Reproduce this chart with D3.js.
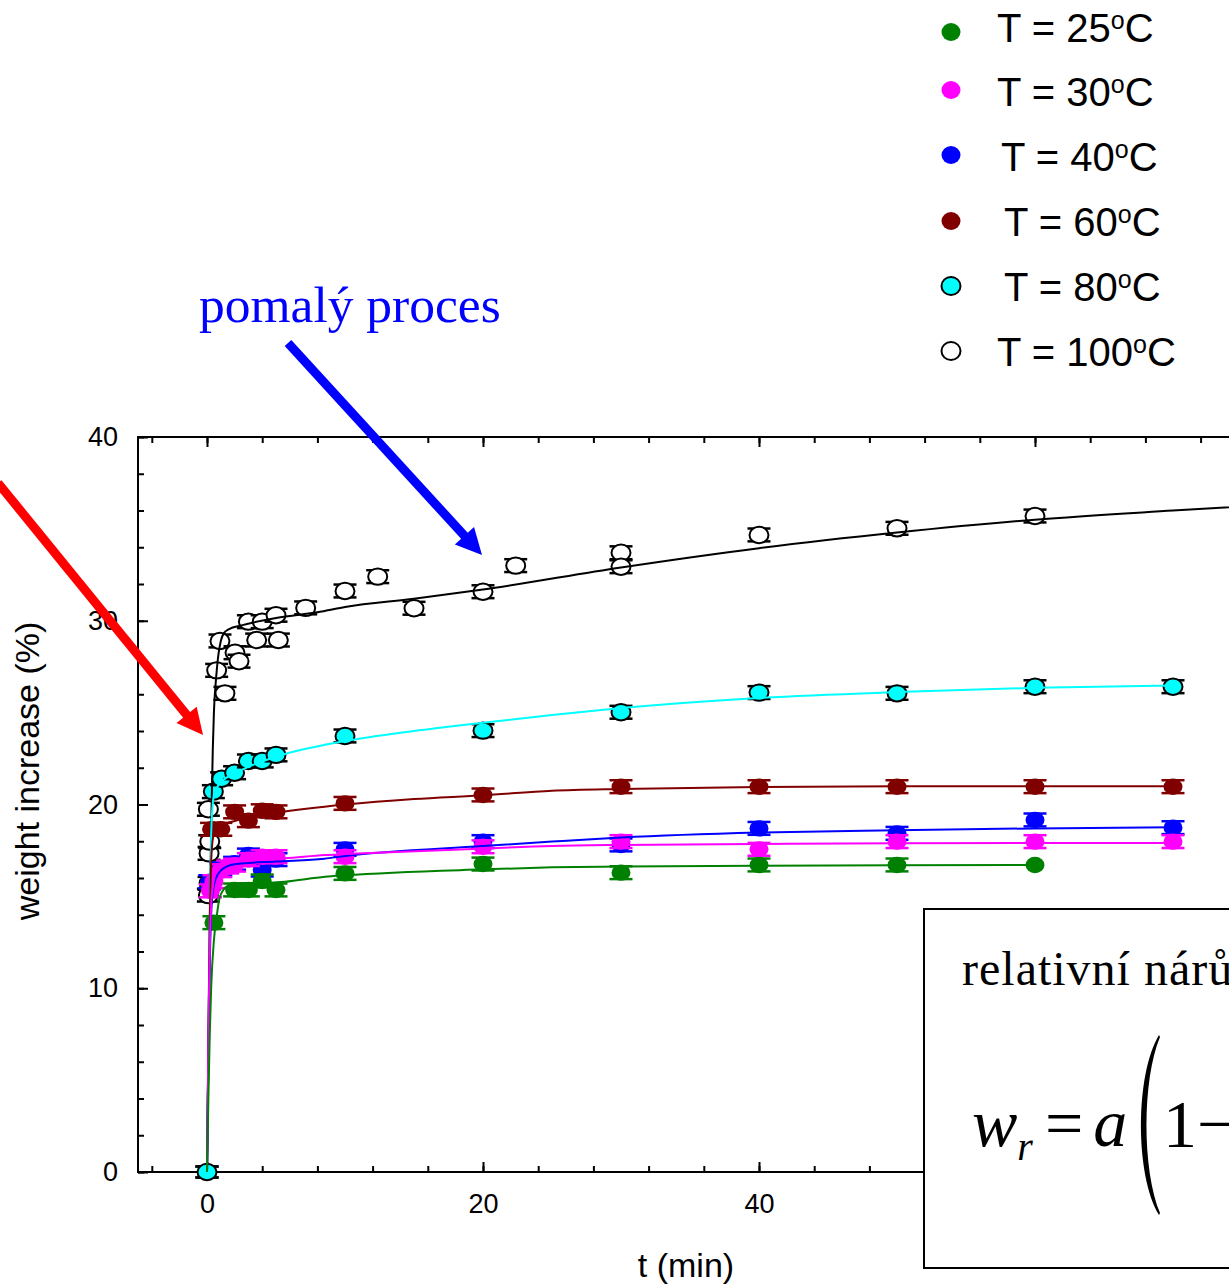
<!DOCTYPE html>
<html>
<head>
<meta charset="utf-8">
<script src="https://cdn.jsdelivr.net/npm/d3@7"></script>
<style>
  html, body { margin: 0; padding: 0; background: #fff; }
  svg { display: block; }
  .sans { font-family: "Liberation Sans", Arial, sans-serif; }
  .serif { font-family: "Liberation Serif", "Times New Roman", serif; }
</style>
</head>
<body>
<script>
// ---------------- DATA ----------------
const seriesNames = ["T = 25", "T = 30", "T = 40", "T = 60", "T = 80", "T = 100"];
const seriesColors = ["#008000", "#ff00ff", "#0000ff", "#800000", "#00ffff", "#ffffff"];

// measured points (time in min, weight increase in %)
const t25 = [0, 0.5, 2, 3, 4, 5, 10, 20, 30, 40, 50, 60];
const w25 = [0, 13.57, 15.35, 15.35, 15.84, 15.35, 16.25, 16.76, 16.29, 16.71, 16.71, 16.71];
const e25 = [0.3, 0.35, 0.35, 0.35, 0.35, 0.35, 0.35, 0.35, 0.35, 0.35, 0.35, 0];

const t30 = [0, 0.25, 0.5, 1, 1.5, 2, 3, 4, 5, 10, 20, 30, 40, 50, 60, 70];
const w30 = [0, 15.3, 15.8, 16.4, 16.6, 16.7, 17.0, 17.16, 17.16, 17.16, 17.7, 17.98, 17.56, 17.98, 17.98, 17.98];
const e30 = [0.3, 0.35, 0.35, 0.35, 0.35, 0.35, 0.35, 0.35, 0.35, 0.35, 0.35, 0.35, 0.35, 0.35, 0.35, 0.35];

const t40 = [0, 0.2, 1, 2, 3, 4, 5, 10, 20, 30, 40, 50, 60, 70];
const w40 = [0, 15.8, 16.5, 16.8, 17.25, 16.43, 17.0, 17.56, 17.98, 17.8, 18.7, 18.43, 19.16, 18.74];
const e40 = [0.3, 0.35, 0.35, 0.35, 0.35, 0.35, 0.35, 0.35, 0.35, 0.35, 0.35, 0.35, 0.35, 0.35];

const t60 = [0, 0.33, 1, 2, 3, 4, 5, 10, 20, 30, 40, 50, 60, 70];
const w60 = [0, 18.65, 18.65, 19.6, 19.12, 19.66, 19.6, 20.06, 20.52, 20.97, 20.97, 20.97, 20.97, 20.97];
const e60 = [0.3, 0.35, 0.35, 0.35, 0.35, 0.35, 0.35, 0.35, 0.35, 0.35, 0.35, 0.35, 0.35, 0.35];

const t80 = [0, 0.46, 1.06, 2, 3, 4, 5, 10, 20, 30, 40, 50, 60, 70];
const w80 = [0, 20.7, 21.4, 21.73, 22.37, 22.37, 22.7, 23.73, 24.02, 25.02, 26.09, 26.05, 26.41, 26.41];
const e80 = [0.3, 0.35, 0.35, 0.35, 0.35, 0.35, 0.35, 0.35, 0.35, 0.35, 0.35, 0.35, 0.35, 0.35];

const t100 = [0.1, 0.15, 0.15, 0.2, 0.1, 0.7, 0.94, 1.3, 2.03, 2.32, 3, 3.6, 4, 5, 5.17, 7.15, 10, 12.37, 15, 20, 22.37, 30, 30, 40, 50, 60];
const w100 = [15.07, 15.71, 17.34, 17.98, 19.74, 27.3, 28.9, 26.05, 28.26, 27.8, 29.95, 28.95, 29.95, 30.3, 28.95, 30.7, 31.62, 32.4, 30.68, 31.58, 33.0, 33.7, 32.94, 34.67, 35.03, 35.7];
const e100 = [0.35, 0.35, 0.35, 0.35, 0.35, 0.35, 0.35, 0.35, 0.35, 0.35, 0.35, 0.35, 0.35, 0.35, 0.35, 0.35, 0.35, 0.35, 0.35, 0.35, 0.35, 0.35, 0.35, 0.35, 0.35, 0.35];

// fitted curves
const fit25t = [0, 0.1, 0.2, 0.3, 0.5, 0.7, 0.94, 1.55, 2, 5.65, 8.55, 10, 20, 25, 30, 40, 50, 60];
const fit25w = [0, 4, 7.5, 10, 12.6, 13.9, 15.0, 15.6, 15.68, 15.8, 16.07, 16.15, 16.47, 16.58, 16.62, 16.67, 16.7, 16.71];
const fit30t = [0, 0.07, 0.14, 0.22, 0.3, 0.45, 0.7, 1, 1.3, 2, 5.65, 8.55, 10, 20, 25, 30, 40, 50, 60, 70];
const fit30w = [0, 5, 9.5, 12.8, 14.5, 15.7, 16.4, 16.75, 16.9, 16.95, 17.07, 17.25, 17.3, 17.6, 17.74, 17.8, 17.85, 17.89, 17.9, 17.9];
const fit40t = [0, 0.07, 0.14, 0.22, 0.3, 0.45, 0.7, 1, 1.5, 2, 5, 8.5, 10, 20, 25, 30, 40, 50, 60, 70];
const fit40w = [0, 4.5, 8.5, 12, 14, 15.4, 16.07, 16.4, 16.65, 16.75, 16.9, 17.05, 17.2, 17.74, 17.98, 18.2, 18.47, 18.6, 18.7, 18.76];
const fit60t = [0, 0.07, 0.14, 0.22, 0.3, 0.4, 0.6, 1, 2, 3, 5, 10, 15, 20, 25, 30, 40, 50, 60, 70];
const fit60w = [0, 5, 10, 14.5, 16.8, 18.0, 18.6, 18.85, 19.1, 19.3, 19.55, 20.0, 20.3, 20.5, 20.75, 20.85, 20.95, 21.0, 21.0, 21.0];
const fit80t = [0, 0.07, 0.14, 0.22, 0.3, 0.4, 0.5, 0.7, 1.0, 1.5, 2, 3, 5, 10, 15, 20, 25, 30, 40, 50, 60, 70];
const fit80w = [0, 5, 10, 15, 18.3, 19.9, 20.5, 20.9, 21.2, 21.5, 21.7, 22.05, 22.6, 23.45, 24.0, 24.45, 24.87, 25.25, 25.8, 26.12, 26.35, 26.47];
const fit100t = [0, 0.07, 0.14, 0.22, 0.34, 0.42, 0.5, 0.65, 0.8, 1.0, 1.2, 1.6, 2.5, 5, 8.3, 10, 15, 20, 30, 40, 50, 60, 70, 80];
const fit100w = [0, 4.5, 9.4, 14.8, 20.2, 23.0, 25.0, 26.8, 28.0, 28.9, 29.3, 29.55, 29.75, 30.15, 30.5, 30.75, 31.2, 31.7, 32.9, 33.95, 34.8, 35.5, 36.0, 36.45];

const xMinorTicks = d3.range(-4, 80, 4);
const xMajorTicks = [0, 20, 40, 60];
const yMinorTicks = d3.range(0, 41, 2);
const yMajorTicks = [0, 10, 20, 30, 40];

// --------------- CHART ----------------
const W = 1229, H = 1285;
const svg = d3.select("body").append("svg").attr("width", W).attr("height", H);

const x = d3.scaleLinear().domain([-5, 80]).range([138, 138 + 85 * 13.8]);
const y = d3.scaleLinear().domain([0, 40]).range([1172, 437]);

const series = [
  { name: seriesNames[0], color: seriesColors[0], t: t25, w: w25, e: e25, ft: fit25t, fw: fit25w, stroke: null, err: seriesColors[0], line: seriesColors[0] },
  { name: seriesNames[1], color: seriesColors[1], t: t30, w: w30, e: e30, ft: fit30t, fw: fit30w, stroke: null, err: seriesColors[1], line: seriesColors[1] },
  { name: seriesNames[2], color: seriesColors[2], t: t40, w: w40, e: e40, ft: fit40t, fw: fit40w, stroke: null, err: seriesColors[2], line: seriesColors[2] },
  { name: seriesNames[3], color: seriesColors[3], t: t60, w: w60, e: e60, ft: fit60t, fw: fit60w, stroke: null, err: seriesColors[3], line: seriesColors[3] },
  { name: seriesNames[4], color: seriesColors[4], t: t80, w: w80, e: e80, ft: fit80t, fw: fit80w, stroke: "#000", err: "#000", line: seriesColors[4] },
  { name: seriesNames[5], color: seriesColors[5], t: t100, w: w100, e: e100, ft: fit100t, fw: fit100w, stroke: "#000", err: "#000", line: "#000" }
];

// axes
const gx = svg.append("g").attr("transform", "translate(0,1172)").attr("class", "sans");
gx.call(d3.axisBottom(x).tickValues(xMinorTicks).tickSize(-6).tickFormat(""));
gx.call(g => g.select(".domain").remove());
const gx2 = svg.append("g").attr("transform", "translate(0,1172)").attr("class", "sans");
gx2.call(d3.axisBottom(x).tickValues(xMajorTicks).tickSize(-10).tickPadding(22).tickFormat(d3.format("d")));
gx2.select(".domain").remove();

const gt = svg.append("g").attr("transform", "translate(0,437)");
gt.call(d3.axisTop(x).tickValues(xMinorTicks).tickSize(-6).tickFormat(""));
gt.select(".domain").remove();
const gt2 = svg.append("g").attr("transform", "translate(0,437)");
gt2.call(d3.axisTop(x).tickValues(xMajorTicks).tickSize(-10).tickFormat(""));
gt2.select(".domain").remove();

const gy = svg.append("g").attr("transform", "translate(138,0)");
gy.call(d3.axisLeft(y).tickValues(yMinorTicks).tickSize(-6).tickFormat(""));
gy.select(".domain").remove();
const gy2 = svg.append("g").attr("transform", "translate(138,0)").attr("class", "sans");
gy2.call(d3.axisLeft(y).tickValues(yMajorTicks).tickSize(-10).tickPadding(20).tickFormat(d3.format("d")));
gy2.select(".domain").remove();

svg.selectAll(".tick line").attr("stroke", "#000").attr("stroke-width", 2);
svg.selectAll(".tick text").attr("fill", "#000").style("font-size", "27px").style("font-family", "'Liberation Sans', Arial, sans-serif");

// frame
svg.append("path")
  .attr("d", `M${W + 5},437 H138 V1172 H${W + 5}`)
  .attr("fill", "none").attr("stroke", "#000").attr("stroke-width", 2);

// markers with error bars
const order = [5, 3, 2, 1, 0, 4];
order.forEach(i => {
  const s = series[i];
  const g = svg.append("g");
  s.t.forEach((tv, k) => {
    const cx = x(tv), cy = y(s.w[k]);
    if (s.e[k] > 0) {
      const y1 = y(s.w[k] + s.e[k]), y2 = y(s.w[k] - s.e[k]);
      g.append("line").attr("x1", cx).attr("x2", cx).attr("y1", y1).attr("y2", y2)
        .attr("stroke", s.err).attr("stroke-width", 2);
      [y1, y2].forEach(yy => g.append("line").attr("x1", cx - 11.5).attr("x2", cx + 11.5)
        .attr("y1", yy).attr("y2", yy).attr("stroke", s.err).attr("stroke-width", 2.5));
    }
    g.append("ellipse").attr("cx", cx).attr("cy", cy).attr("rx", 9.5).attr("ry", 8.2)
      .attr("fill", s.color)
      .attr("stroke", s.stroke || "none").attr("stroke-width", 2);
  });
});

// fitted lines
const line = d3.line().x(d => x(d[0])).y(d => y(d[1])).curve(d3.curveMonotoneX);
[5, 4, 3, 2, 1, 0].forEach(i => {
  const s = series[i];
  svg.append("path").datum(s.ft.map((tv, k) => [tv, s.fw[k]]))
    .attr("d", line).attr("fill", "none").attr("stroke", s.line).attr("stroke-width", 2);
});

// axis titles
svg.append("text").attr("class", "sans").attr("x", 686).attr("y", 1277)
  .attr("text-anchor", "middle").style("font-size", "34px").text("t (min)");
svg.append("text").attr("class", "sans")
  .attr("transform", "translate(39,771) rotate(-90)")
  .attr("text-anchor", "middle").style("font-size", "34px").text("weight increase (%)");

// legend
const legMarkY = [32, 90, 155, 221, 286, 351];
const legTextY = [42, 106, 171, 236, 301, 366];
const legTextX = [997, 997, 1001, 1004, 1004, 997];
series.forEach((s, i) => {
  svg.append("ellipse").attr("cx", 951).attr("cy", legMarkY[i]).attr("rx", 9.5).attr("ry", 9)
    .attr("fill", s.color).attr("stroke", s.stroke || "none").attr("stroke-width", 2);
  const t = svg.append("text").attr("class", "sans").attr("x", legTextX[i]).attr("y", legTextY[i])
    .style("font-size", "40px").attr("fill", "#000");
  t.append("tspan").text(s.name);
  t.append("tspan").attr("dy", -13).style("font-size", "25px").text("o");
  t.append("tspan").attr("dy", 13).text("C");
});

// arrows
function arrow(x0, y0, x1, y1, color, width, headLen, headHalf) {
  const dx = x1 - x0, dy = y1 - y0, L = Math.hypot(dx, dy);
  const ux = dx / L, uy = dy / L;
  const bx = x1 - ux * headLen, by = y1 - uy * headLen;
  svg.append("line").attr("x1", x0).attr("y1", y0).attr("x2", bx + ux * 2).attr("y2", by + uy * 2)
    .attr("stroke", color).attr("stroke-width", width);
  svg.append("path")
    .attr("d", `M${x1},${y1} L${bx - uy * headHalf},${by + ux * headHalf} L${bx + uy * headHalf},${by - ux * headHalf} Z`)
    .attr("fill", color);
}
arrow(-2, 483, 203, 735, "#ff0000", 9, 26, 13);
arrow(288, 343, 482, 555, "#0000ff", 9, 26, 13);

svg.append("text").attr("class", "serif").attr("x", 199).attr("y", 322)
  .style("font-size", "51.5px").attr("fill", "#0000ff").text("pomalý proces");

// equation box
svg.append("rect").attr("x", 924).attr("y", 909).attr("width", 400).attr("height", 359)
  .attr("fill", "#fff").attr("stroke", "#000").attr("stroke-width", 2);
svg.append("text").attr("class", "serif").attr("x", 962).attr("y", 985)
  .style("font-size", "48px").style("letter-spacing", "1px").text("relativní nárůst");
const eq = svg.append("text").attr("class", "serif").attr("x", 972).attr("y", 1146).style("font-size", "68px");
eq.append("tspan").style("font-style", "italic").text("w");
eq.append("tspan").attr("dy", 14).style("font-style", "italic").style("font-size", "40px").text("r");
eq.append("tspan").attr("dy", -14).attr("dx", 12).text("=");
eq.append("tspan").attr("dx", 10).style("font-style", "italic").text("a");
// large parenthesis
svg.append("path")
  .attr("d", "M1159,1035 C1135,1075 1135,1175 1159,1215 L1160,1213 C1142,1170 1142,1080 1160,1037 Z")
  .attr("fill", "#000");
svg.append("text").attr("class", "serif").attr("x", 1163).attr("y", 1147).style("font-size", "68px").text("1");
svg.append("text").attr("class", "serif").attr("x", 1197).attr("y", 1147).style("font-size", "68px").text("−");
</script>
</body>
</html>
